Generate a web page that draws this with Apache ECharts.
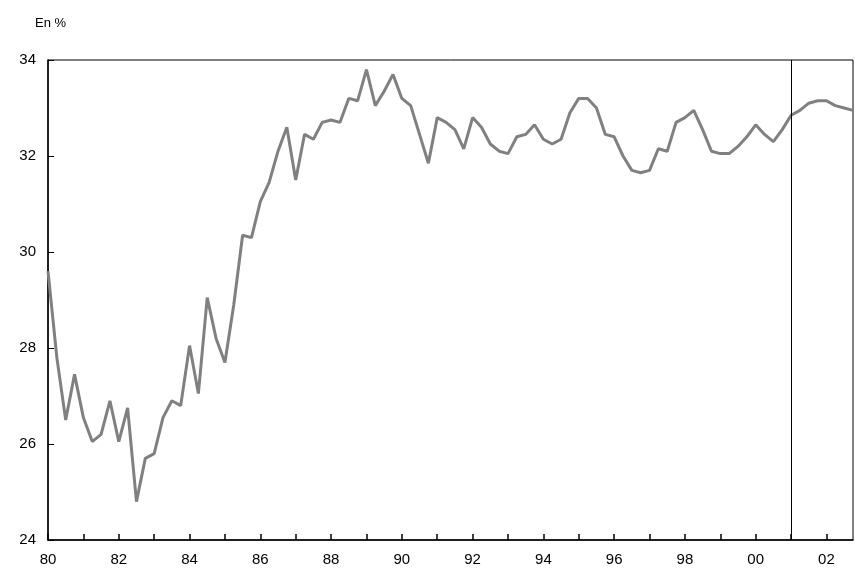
<!DOCTYPE html>
<html><head><meta charset="utf-8">
<script src="https://cdn.jsdelivr.net/npm/echarts@6/dist/echarts.min.js"></script>
<style>body{margin:0}#c{width:855px;height:584px}</style></head>
<body><div id="c"></div>
<script>
// trimestres 1980T1 - 2002T4
var quarters = [];
for (var y = 1980; y <= 2002; y++) for (var q = 1; q <= 4; q++) quarters.push(String(y).slice(2) + 'T' + q);
var values = [29.6,27.8,26.5,27.45,26.55,26.05,26.2,26.9,26.05,26.75,24.8,25.7,25.8,26.55,26.9,26.8,
  28.05,27.05,29.05,28.2,27.7,28.9,30.35,30.3,31.05,31.45,32.1,32.6,31.5,32.45,32.35,32.7,
  32.75,32.7,33.2,33.15,33.8,33.05,33.35,33.7,33.2,33.05,32.45,31.85,32.8,32.7,32.55,32.15,
  32.8,32.6,32.25,32.1,32.05,32.4,32.45,32.65,32.35,32.25,32.35,32.9,33.2,33.2,33.0,32.45,
  32.4,32.0,31.7,31.65,31.7,32.15,32.1,32.7,32.8,32.95,32.55,32.1,32.05,32.05,32.2,32.4,
  32.65,32.45,32.3,32.55,32.85,32.95,33.1,33.15,33.15,33.05,33.0,32.95];
var markAt = '01T1';

var chart = echarts.init(document.getElementById('c'));
chart.setOption({
  animation: false,
  grid: {left: 48, right: 2, top: 60, bottom: 44, show: true, borderColor: '#000', borderWidth: 1},
  title: {text: 'En %', left: 30, top: 12, textStyle: {fontSize: 13, fontWeight: 'normal', color: '#000', fontFamily: 'Liberation Sans'}},
  xAxis: {
    type: 'category', data: quarters, boundaryGap: false,
    axisLine: {lineStyle: {color: '#000', width: 1.5}},
    axisTick: {inside: true, interval: function (i) { return i % 4 === 0; }, length: 6, lineStyle: {color: '#000', width: 1.5}},
    axisLabel: {interval: function (i) { return i % 8 === 0; }, formatter: function (v) { return v.slice(0, 2); },
      color: '#000', fontSize: 15, fontFamily: 'Liberation Sans', margin: 12},
    splitLine: {show: false}
  },
  yAxis: {
    type: 'value', min: 24, max: 34, interval: 2,
    axisLine: {show: true, lineStyle: {color: '#000', width: 1.5}},
    axisTick: {show: true, inside: true, length: 6, lineStyle: {color: '#000'}},
    axisLabel: {color: '#000', fontSize: 15, fontFamily: 'Liberation Sans', margin: 12},
    splitLine: {show: false}
  },
  series: [{
    type: 'line', data: values, symbol: 'none',
    lineStyle: {color: '#808080', width: 3},
    markLine: {symbol: 'none', silent: true, label: {show: false},
      lineStyle: {color: '#000', width: 1, type: 'solid'}, data: [{xAxis: markAt}]}
  }]
});
</script></body></html>
